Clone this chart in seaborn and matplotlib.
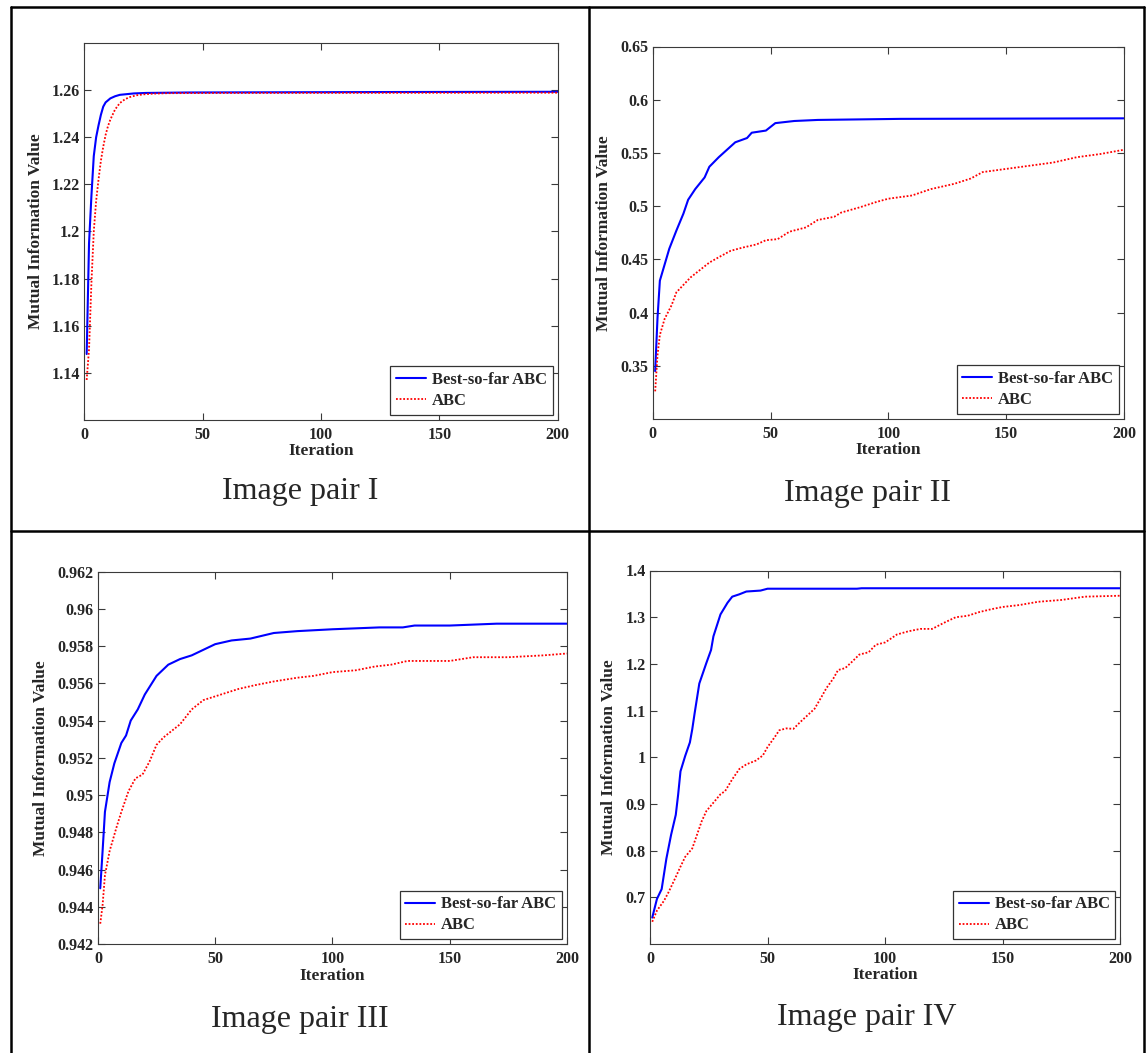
import matplotlib
matplotlib.use("Agg")
import matplotlib.pyplot as plt
from matplotlib.lines import Line2D
import pandas as pd
import seaborn as sns

# ---------------- data ----------------
# Image pair I
best1_it = [1, 2, 3, 4, 5, 6, 7, 8, 9, 11, 13, 15, 18, 21, 26, 44, 133, 200]
best1 = [1.148, 1.195, 1.215, 1.232, 1.240, 1.245, 1.2495, 1.2530, 1.2548, 1.2565,
         1.2574, 1.2580, 1.2583, 1.2586, 1.2588, 1.2590, 1.2592, 1.2593]
abc1_it = [1, 2, 3, 4, 5, 6, 7, 8, 9, 10, 11, 13, 15, 17, 19, 22, 25, 29, 35, 60, 200]
abc1 = [1.137, 1.150, 1.178, 1.200, 1.213, 1.222, 1.230, 1.236, 1.241, 1.2447, 1.2475,
        1.2518, 1.2545, 1.2560, 1.2570, 1.2578, 1.2582, 1.2585, 1.2587, 1.2588, 1.2589]

# Image pair II
best2_it = [1, 2, 3, 5, 7, 10, 13, 15, 18, 22, 24, 28, 32, 35, 40, 42, 48, 52, 60, 70, 105, 200]
best2 = [0.345, 0.395, 0.430, 0.445, 0.460, 0.477, 0.493, 0.506, 0.516, 0.527, 0.537,
         0.546, 0.554, 0.560, 0.564, 0.569, 0.571, 0.578, 0.580, 0.581, 0.582, 0.5825]
abc2_it = [1, 2, 3, 5, 8, 10, 13, 16, 20, 24, 28, 33, 38, 44, 48, 53, 58, 65, 70, 77,
           80, 88, 95, 100, 110, 118, 128, 135, 140, 150, 160, 170, 180, 190, 200]
abc2 = [0.326, 0.360, 0.379, 0.394, 0.407, 0.419, 0.426, 0.433, 0.440, 0.447,
        0.452, 0.458, 0.461, 0.464, 0.468, 0.469, 0.476, 0.480, 0.487, 0.490,
        0.494, 0.499, 0.504, 0.507, 0.510, 0.516, 0.521, 0.526, 0.532, 0.535,
        0.538, 0.541, 0.546, 0.549, 0.553]

# Image pair III
best3_it = [1, 2, 3, 5, 7, 10, 12, 14, 17, 20, 25, 30, 35, 40, 45, 50, 57, 65, 75, 85,
            100, 120, 130, 135, 150, 170, 200]
best3 = [0.9450, 0.9470, 0.9491, 0.9507, 0.9517, 0.9528, 0.9532, 0.9540, 0.9546, 0.9554,
         0.9564, 0.9570, 0.9573, 0.9575, 0.9578, 0.9581, 0.9583, 0.9584, 0.9587, 0.9588,
         0.9589, 0.9590, 0.9590, 0.9591, 0.9591, 0.9592, 0.9592]
abc3_it = [1, 2, 3, 5, 8, 10, 13, 16, 19, 22, 25, 28, 31, 35, 40, 45, 50, 55, 60, 67,
           75, 85, 92, 100, 110, 118, 125, 132, 150, 160, 175, 190, 200]
abc3 = [0.9431, 0.9441, 0.9457, 0.9470, 0.9483, 0.9491, 0.9502, 0.9509, 0.9511, 0.9518,
        0.9527, 0.9531, 0.9534, 0.9538, 0.9546, 0.9551, 0.9553, 0.9555, 0.9557, 0.9559,
        0.9561, 0.9563, 0.9564, 0.9566, 0.9567, 0.9569, 0.9570, 0.9572, 0.9572, 0.9574,
        0.9574, 0.9575, 0.9576]

# Image pair IV
best4_it = [1, 3, 5, 7, 9, 11, 12, 13, 15, 17, 18, 19, 21, 24, 26, 27, 30, 33, 35, 38,
            41, 47, 50, 88, 90, 200]
best4 = [0.657, 0.697, 0.718, 0.783, 0.834, 0.877, 0.920, 0.970, 1.003, 1.032,
         1.060, 1.094, 1.158, 1.202, 1.230, 1.259, 1.306, 1.331, 1.344, 1.349,
         1.355, 1.357, 1.361, 1.361, 1.362, 1.362]
abc4_it = [1, 3, 6, 8, 11, 13, 15, 18, 20, 22, 24, 27, 30, 32, 35, 38, 41, 45, 48, 50,
           53, 55, 58, 61, 64, 67, 70, 73, 75, 78, 80, 83, 86, 89, 93, 96, 100, 105, 110, 115,
           120, 125, 130, 135, 140, 145, 150, 157, 165, 175, 185, 200]
abc4 = [0.648, 0.672, 0.693, 0.712, 0.744, 0.766, 0.787, 0.805, 0.834, 0.863,
        0.885, 0.903, 0.921, 0.928, 0.953, 0.975, 0.985, 0.993, 1.004, 1.022,
        1.043, 1.058, 1.062, 1.061, 1.076, 1.090, 1.104, 1.130, 1.148, 1.169,
        1.187, 1.191, 1.205, 1.220, 1.225, 1.241, 1.246, 1.263, 1.270, 1.275,
        1.275, 1.288, 1.300, 1.303, 1.311, 1.317, 1.322, 1.326, 1.333, 1.337,
        1.344, 1.346]

x_ticks = [0, 50, 100, 150, 200]
x_ticklabels = ["0", "50", "100", "150", "200"]

y_ticks1 = [1.14, 1.16, 1.18, 1.20, 1.22, 1.24, 1.26]
y_ticklabels1 = ["1.14", "1.16", "1.18", "1.2", "1.22", "1.24", "1.26"]
y_ticks2 = [0.35, 0.40, 0.45, 0.50, 0.55, 0.60, 0.65]
y_ticklabels2 = ["0.35", "0.4", "0.45", "0.5", "0.55", "0.6", "0.65"]
y_ticks3 = [0.942, 0.944, 0.946, 0.948, 0.950, 0.952, 0.954, 0.956, 0.958, 0.960, 0.962]
y_ticklabels3 = ["0.942", "0.944", "0.946", "0.948", "0.95", "0.952", "0.954",
                 "0.956", "0.958", "0.96", "0.962"]
y_ticks4 = [0.7, 0.8, 0.9, 1.0, 1.1, 1.2, 1.3, 1.4]
y_ticklabels4 = ["0.7", "0.8", "0.9", "1", "1.1", "1.2", "1.3", "1.4"]

captions = ["Image pair I", "Image pair II", "Image pair III", "Image pair IV"]
series_names = ["Best-so-far ABC", "ABC"]

# ---------------- style ----------------
sns.set_theme(style="white")
plt.rcParams["font.family"] = ["Liberation Serif", "DejaVu Serif"]
plt.rcParams["axes.edgecolor"] = "#3a3a3a"

W, H = 1148, 1053
fig = plt.figure(figsize=(W / 100, H / 100), dpi=100)
fig.patch.set_facecolor("white")

panels = [
    dict(box=(84.3, 43.0, 557.8, 420.0), ylim=(1.12, 1.28), yt=y_ticks1, ytl=y_ticklabels1,
         best=(best1_it, best1), abc=(abc1_it, abc1), ylab_x=-0.1024, xlab_y=-0.082,
         cap_xy=(300, 492)),
    dict(box=(652.8, 46.5, 1124.0, 419.0), ylim=(0.30, 0.65), yt=y_ticks2, ytl=y_ticklabels2,
         best=(best2_it, best2), abc=(abc2_it, abc2), ylab_x=-0.1036, xlab_y=-0.083,
         cap_xy=(868, 493)),
    dict(box=(97.9, 571.5, 567.0, 944.2), ylim=(0.942, 0.962), yt=y_ticks3, ytl=y_ticklabels3,
         best=(best3_it, best3), abc=(abc3_it, abc3), ylab_x=-0.1205, xlab_y=-0.086,
         cap_xy=(300, 1020)),
    dict(box=(649.9, 570.5, 1120.4, 944.2), ylim=(0.6, 1.4), yt=y_ticks4, ytl=y_ticklabels4,
         best=(best4_it, best4), abc=(abc4_it, abc4), ylab_x=-0.0859, xlab_y=-0.082,
         cap_xy=(867, 1018)),
]

labelfont = dict(family="Liberation Serif", weight="bold", size=12.5)
legfont = dict(family="Liberation Serif", weight="bold", size=12)
tickfont = dict(family="Liberation Serif", weight="bold", size=11.5)

for p, caption in zip(panels, captions):
    l, t, r, b = p["box"]
    ax = fig.add_axes([l / W, 1 - b / H, (r - l) / W, (b - t) / H])
    ax.set_facecolor("white")

    df_best = pd.DataFrame({"Iteration": p["best"][0], "MI": p["best"][1]})
    df_abc = pd.DataFrame({"Iteration": p["abc"][0], "MI": p["abc"][1]})
    sns.lineplot(data=df_best, x="Iteration", y="MI", ax=ax, color="#0000ff",
                 linewidth=1.5, label=series_names[0], estimator=None)
    sns.lineplot(data=df_abc, x="Iteration", y="MI", ax=ax, color="#ff0000",
                 linewidth=1.3, linestyle=(0, (1, 1)), label=series_names[1], estimator=None)

    ax.set_xlim(0, 200)
    ax.set_ylim(*p["ylim"])
    ax.set_xticks(x_ticks)
    ax.set_xticklabels(x_ticklabels, fontdict=tickfont)
    ax.set_yticks(p["yt"])
    ax.set_yticklabels(p["ytl"], fontdict=tickfont)
    ax.tick_params(axis="both", direction="in", length=5, width=0.8, color="#3a3a3a",
                   top=True, right=True, bottom=True, left=True)
    ax.tick_params(axis="x", pad=5)
    ax.tick_params(axis="y", pad=3)
    for sp in ax.spines.values():
        sp.set_visible(True)
        sp.set_linewidth(0.8)
        sp.set_color("#3a3a3a")

    ax.set_xlabel("Iteration", fontdict=labelfont, va="center")
    ax.xaxis.set_label_coords(0.5, p["xlab_y"])
    ax.set_ylabel("Mutual Information Value", fontdict=labelfont, va="center")
    ax.yaxis.set_label_coords(p["ylab_x"], 0.5)

    leg = ax.legend(loc="lower right", frameon=True, fancybox=False, shadow=False,
                    framealpha=1, edgecolor="#333333", borderaxespad=0.3,
                    handlelength=1.8, handletextpad=0.35, labelspacing=0.3,
                    borderpad=0.35, prop=legfont)
    leg.get_frame().set_linewidth(0.9)
    leg.get_frame().set_facecolor("white")

    cx, cy = p["cap_xy"]
    fig.text(cx / W, 1 - cy / H, caption, ha="center", va="center",
             family="Liberation Serif", fontsize=23)

# table grid around the four panels
def hline(y, x0, x1):
    fig.add_artist(Line2D([x0 / W, x1 / W], [1 - y / H, 1 - y / H],
                          transform=fig.transFigure, color="black", lw=1.8))

def vline(x, y0, y1):
    fig.add_artist(Line2D([x / W, x / W], [1 - y0 / H, 1 - y1 / H],
                          transform=fig.transFigure, color="black", lw=1.8))

hline(7, 11, 1144)
hline(531, 11, 1144)
vline(11, 7, 1053)
vline(589, 7, 1053)
vline(1144, 7, 1053)

fig.savefig("out.png", dpi=100, facecolor="white")
